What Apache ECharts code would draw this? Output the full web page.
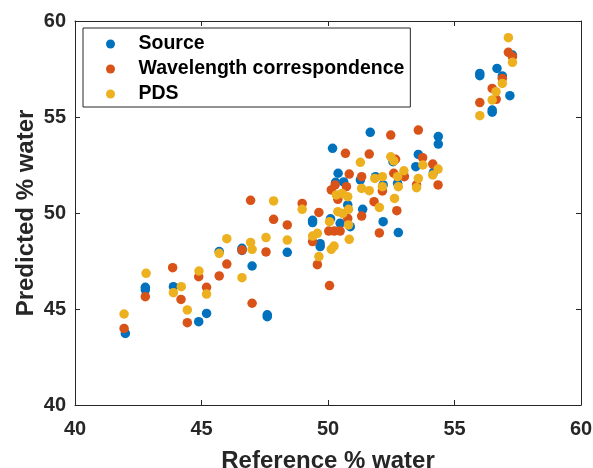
<!DOCTYPE html>
<html>
<head>
<meta charset="utf-8">
<script src="https://cdn.jsdelivr.net/npm/echarts@6/dist/echarts.min.js"></script>
<style>
  html, body { margin: 0; padding: 0; background: #fff; }
  #chart { width: 593px; height: 468px; }
</style>
</head>
<body>
<div id="chart"></div>
<script>
// [reference, predicted] pairs
const sourcePoints = [
  [41.99, 43.73], [42.78, 46.13], [42.78, 46.0], [43.89, 46.16], [44.89, 44.34], [45.2, 44.77],
  [45.7, 47.99], [46.6, 48.16], [46.6, 48.05], [47.0, 47.24], [47.6, 44.6], [47.6, 44.7], [48.39, 47.95],
  [49.39, 49.5], [49.39, 49.62], [49.69, 48.25], [49.69, 48.4], [50.18, 53.37], [50.1, 49.7],
  [50.4, 52.07], [50.3, 51.6], [50.62, 51.62], [50.48, 49.46], [50.78, 50.42], [50.88, 49.29],
  [51.37, 50.19], [51.28, 51.72], [51.67, 54.2], [51.88, 51.89], [52.18, 49.55], [52.18, 51.46],
  [52.57, 52.67], [52.75, 51.55], [52.78, 48.98], [53.47, 52.41], [53.57, 53.05], [54.17, 52.12],
  [54.36, 53.98], [54.36, 53.59], [56.0, 57.27], [56.0, 57.15], [56.49, 55.36], [56.49, 55.25],
  [56.68, 57.53], [56.89, 57.14], [57.19, 56.11], [57.29, 58.23]
];
const wavelengthPoints = [
  [41.94, 43.99], [42.78, 45.64], [43.86, 47.15], [44.19, 45.5], [44.44, 44.29], [44.89, 46.68],
  [45.2, 46.13], [45.7, 46.72], [46.0, 47.34], [46.6, 48.07], [46.94, 50.66], [47.0, 45.3],
  [47.55, 47.97], [47.85, 49.67], [48.39, 49.38], [48.98, 50.5], [49.39, 48.51], [49.64, 50.03],
  [49.58, 47.31], [50.06, 46.22], [50.03, 49.06], [50.13, 51.2], [50.28, 51.46], [50.25, 49.06],
  [50.48, 49.06], [50.39, 50.71], [50.69, 53.11], [50.73, 51.37], [50.84, 52.03], [50.78, 49.72],
  [51.33, 51.89], [51.33, 49.84], [51.63, 53.07], [51.82, 50.59], [52.03, 48.96], [52.15, 51.15],
  [52.48, 54.06], [52.6, 52.07], [52.67, 52.8], [52.72, 50.12], [53.02, 51.89], [53.57, 54.32],
  [53.5, 51.46], [53.74, 52.88], [54.14, 52.55], [54.35, 51.46], [56.0, 55.75], [56.49, 56.49],
  [56.65, 55.92], [56.89, 57.01], [57.13, 58.37], [57.29, 58.14]
];
const pdsPoints = [
  [41.94, 44.74], [42.81, 46.86], [43.89, 45.85], [44.2, 46.16], [44.44, 44.95], [44.9, 46.98],
  [45.2, 45.78], [45.7, 47.9], [46.0, 48.66], [46.6, 46.63], [46.94, 48.47], [47.0, 48.11],
  [47.55, 48.72], [47.85, 50.63], [48.39, 48.59], [48.98, 50.19], [49.39, 48.8], [49.58, 48.94],
  [49.64, 47.73], [50.06, 49.55], [50.13, 48.11], [50.24, 48.28], [50.33, 50.94], [50.39, 50.07],
  [50.55, 51.02], [50.58, 49.98], [50.78, 50.85], [50.81, 50.19], [50.81, 49.38], [50.84, 48.63],
  [51.28, 52.64], [51.33, 51.28], [51.63, 51.16], [51.85, 51.8], [52.03, 50.29], [52.15, 51.89],
  [52.15, 51.37], [52.48, 52.93], [52.6, 52.71], [52.63, 50.76], [52.75, 51.89], [52.78, 51.37],
  [53.0, 52.2], [53.5, 51.32], [53.57, 51.8], [53.75, 52.5], [54.14, 51.98], [54.35, 52.29],
  [56.0, 55.07], [56.49, 55.89], [56.64, 56.32], [56.89, 56.75], [57.13, 59.13], [57.29, 57.85]
];
const seriesNames = ['Source', 'Wavelength correspondence', 'PDS'];
const seriesColors = ['#0072BD', '#D95319', '#EDB120'];

const font = '"Liberation Sans", Arial, sans-serif';
const axisColor = '#262626';

const baseAxis = {
  type: 'value',
  min: 40,
  max: 60,
  interval: 5,
  splitLine: { show: false },
  axisLine: { show: true, onZero: false, lineStyle: { color: axisColor, width: 1 } },
  axisTick: { show: true, inside: true, length: 5, lineStyle: { color: axisColor } }
};
const labelStyle = { color: axisColor, fontFamily: font, fontWeight: 'bold', fontSize: 20 };
const titleStyle = { color: axisColor, fontFamily: font, fontWeight: 'bold', fontSize: 24 };

const chart = echarts.init(document.getElementById('chart'));
chart.setOption({
  animation: false,
  backgroundColor: '#fff',
  grid: { left: 75, right: 12, top: 21, bottom: 63, containLabel: false, outerBoundsMode: 'none' },
  legend: {
    data: seriesNames,
    orient: 'vertical',
    left: 83,
    top: 28,
    padding: [6, 6, 3, 23],
    itemWidth: 46,
    itemHeight: 9,
    itemGap: 5,
    icon: 'circle',
    borderColor: axisColor,
    borderWidth: 1,
    backgroundColor: '#fff',
    textStyle: { color: '#000', fontFamily: font, fontWeight: 'bold', fontSize: 19.5, lineHeight: 19 }
  },
  xAxis: [
    Object.assign({}, baseAxis, {
      position: 'bottom',
      name: 'Reference % water',
      nameLocation: 'middle',
      nameGap: 44,
      nameMoveOverlap: false,
      nameTextStyle: titleStyle,
      axisLabel: Object.assign({ margin: 14 }, labelStyle)
    }),
    Object.assign({}, baseAxis, { position: 'top', axisLabel: { show: false } })
  ],
  yAxis: [
    Object.assign({}, baseAxis, {
      position: 'left',
      name: 'Predicted % water',
      nameLocation: 'middle',
      nameGap: 37,
      nameMoveOverlap: false,
      nameTextStyle: titleStyle,
      axisLabel: Object.assign({ margin: 9 }, labelStyle)
    }),
    Object.assign({}, baseAxis, { position: 'right', axisLabel: { show: false } })
  ],
  series: [sourcePoints, wavelengthPoints, pdsPoints].map((pts, i) => ({
    name: seriesNames[i],
    type: 'scatter',
    data: pts,
    symbol: 'circle',
    symbolSize: 9.5,
    itemStyle: { color: seriesColors[i], opacity: 1 }
  }))
});
</script>
</body>
</html>
